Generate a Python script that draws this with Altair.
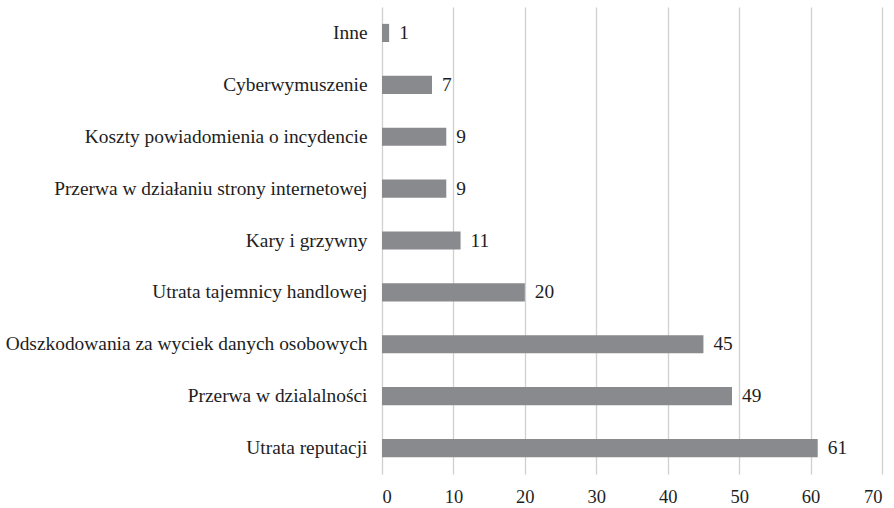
import altair as alt
import pandas as pd

categories = [
    "Inne",
    "Cyberwymuszenie",
    "Koszty powiadomienia o incydencie",
    "Przerwa w działaniu strony internetowej",
    "Kary i grzywny",
    "Utrata tajemnicy handlowej",
    "Odszkodowania za wyciek danych osobowych",
    "Przerwa w dzialalności",
    "Utrata reputacji",
]
values = [1, 7, 9, 9, 11, 20, 45, 49, 61]

df = pd.DataFrame({"cat": categories, "val": values})

FONT = "Liberation Serif, Times New Roman, serif"
FS = 19.4

y = alt.Y("cat:N", sort=categories, title=None,
          scale=alt.Scale(paddingInner=0.65, paddingOuter=0.325),
          axis=alt.Axis(domain=False, ticks=False, labelPadding=15,
                        labelFontSize=FS, labelFont=FONT, labelColor="#1e1e1e",
                        labelLimit=400))
x = alt.X("val:Q", title=None,
          scale=alt.Scale(domain=[0, 70], nice=False),
          axis=alt.Axis(values=list(range(0, 71, 10)), domain=False, ticks=False,
                        grid=True, gridColor="#d0d0d0", gridWidth=1.3,
                        labelFontSize=18.5, labelFont=FONT, labelColor="#1e1e1e",
                        labelPadding=13))

bars = alt.Chart(df).mark_bar(color="#898a8d").encode(x=x, y=y)
text = alt.Chart(df).mark_text(align="left", baseline="middle", dx=10,
                               fontSize=FS, font=FONT, color="#1e1e1e").encode(
    x="val:Q", y=alt.Y("cat:N", sort=categories), text="val:Q")

chart = (bars + text).properties(
    width=500, height=467,
    autosize=alt.AutoSizeParams(type="none"),
    padding={"left": 382, "top": 7, "right": 12, "bottom": 34},
).configure_view(stroke=None)

chart.save("out.html", embed_options={"renderer": "svg", "actions": False})
